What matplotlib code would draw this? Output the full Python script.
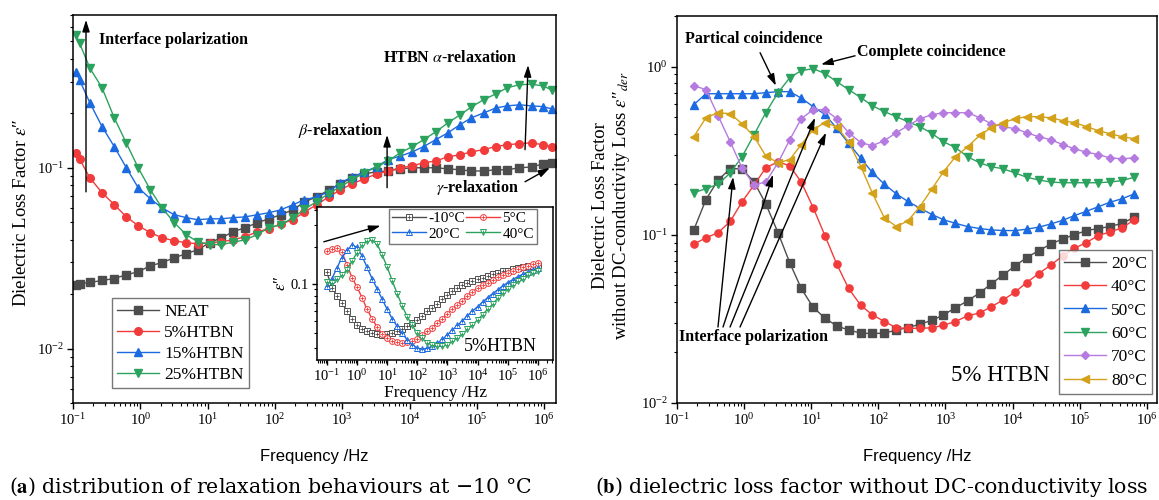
import matplotlib
matplotlib.use("Agg")
import matplotlib.pyplot as plt
import numpy as np
from matplotlib.ticker import LogLocator, NullFormatter, FixedLocator, FixedFormatter

plt.rcParams["font.family"] = ["Liberation Serif", "DejaVu Serif"]
plt.rcParams["mathtext.fontset"] = "stix"

GRAY = "#4d4d4d"
RED = "#f23b3b"
BLUE = "#1c6ae0"
GREEN = "#2ca25f"
PURPLE = "#b57be0"
GOLD = "#d4a21a"

# ---------------- panel (a): HTBN content at -10 C ----------------
freq_a = [0.11, 0.125, 0.178, 0.27, 0.41, 0.62, 0.93, 1.41, 2.1, 3.2, 4.8, 7.1,
          10.7, 16, 24, 36, 55, 81, 123, 186, 275, 417, 631, 933, 1410, 2140,
          3240, 4790, 7240, 1.1e4, 1.62e4, 2.45e4, 3.7e4, 5.6e4, 8.3e4, 1.26e5,
          1.9e5, 2.8e5, 4.3e5, 6.5e5, 9.5e5, 1.29e6]
neat_a = [0.0226, 0.0229, 0.0232, 0.0238, 0.0244, 0.0256, 0.0266, 0.0287, 0.0299, 0.0318,
          0.0335, 0.0352, 0.0385, 0.041, 0.0443, 0.0466, 0.0497, 0.0522, 0.055, 0.0586,
          0.0648, 0.069, 0.0755, 0.0816, 0.088, 0.0926, 0.095, 0.096, 0.0987, 0.100,
          0.100, 0.100, 0.0987, 0.0975, 0.096, 0.096, 0.0975, 0.0975, 0.100, 0.101,
          0.105, 0.1066]
htbn5_a = [0.121, 0.112, 0.088, 0.0728, 0.0625, 0.0536, 0.0478, 0.0438, 0.041, 0.0395,
           0.0385, 0.038, 0.0385, 0.039, 0.040, 0.0416, 0.0443, 0.046, 0.049, 0.0516,
           0.057, 0.0625, 0.069, 0.0755, 0.0816, 0.087, 0.0925, 0.096, 0.100, 0.1026,
           0.1066, 0.109, 0.115, 0.118, 0.1225, 0.126, 0.131, 0.134, 0.136, 0.1375,
           0.134, 0.131]
htbn15_a = [0.339, 0.306, 0.229, 0.169, 0.131, 0.100, 0.0776, 0.0674, 0.060, 0.055,
            0.053, 0.0516, 0.0522, 0.0522, 0.053, 0.0535, 0.055, 0.0564, 0.0586, 0.0625,
            0.0666, 0.069, 0.0736, 0.0826, 0.089, 0.095, 0.1013, 0.111, 0.116, 0.1225,
            0.131, 0.143, 0.156, 0.173, 0.189, 0.201, 0.214, 0.220, 0.223, 0.220,
            0.218, 0.212]
htbn25_a = [0.543, 0.49, 0.356, 0.277, 0.189, 0.137, 0.10, 0.0756, 0.060, 0.0497,
            0.0427, 0.039, 0.0376, 0.0376, 0.0387, 0.040, 0.0427, 0.0466, 0.0484, 0.053,
            0.059, 0.065, 0.072, 0.0785, 0.086, 0.094, 0.101, 0.109, 0.121, 0.131,
            0.143, 0.158, 0.177, 0.196, 0.217, 0.238, 0.256, 0.277, 0.288, 0.29,
            0.284, 0.27]

# inset: 5%HTBN at several temperatures
freq_i = [0.1, 0.147, 0.215, 0.316, 0.464, 0.681, 1, 1.47, 2.15, 3.16, 4.64, 6.81,
          10, 14.7, 21.5, 31.6, 46.4, 68.1, 100, 147, 215, 316, 464, 681,
          1000, 1470, 2150, 3160, 4640, 6810, 1e4, 1.47e4, 2.15e4, 3.16e4, 4.64e4,
          6.81e4, 1e5, 1.47e5, 2.15e5, 3.16e5, 4.64e5, 6.81e5, 1e6]
ins_m10 = [0.124, 0.093, 0.080, 0.070, 0.060, 0.052, 0.046, 0.043, 0.041, 0.0395,
           0.0387, 0.0385, 0.039, 0.040, 0.0415, 0.043, 0.0455, 0.048, 0.051, 0.055,
           0.060, 0.064, 0.069, 0.075, 0.081, 0.087, 0.093, 0.098, 0.102, 0.106,
           0.109, 0.112, 0.116, 0.12, 0.123, 0.126, 0.128, 0.131, 0.134, 0.137,
           0.139, 0.14, 0.142]
ins_5 = [0.183, 0.192, 0.196, 0.180, 0.143, 0.112, 0.094, 0.077, 0.062, 0.052,
         0.0445, 0.039, 0.0361, 0.0345, 0.0335, 0.033, 0.0334, 0.0342, 0.0355, 0.038,
         0.041, 0.044, 0.048, 0.052, 0.057, 0.062, 0.067, 0.073, 0.080, 0.086,
         0.092, 0.097, 0.102, 0.107, 0.113, 0.118, 0.122, 0.127, 0.132, 0.136,
         0.140, 0.144, 0.147]
ins_20 = [0.096, 0.110, 0.134, 0.163, 0.188, 0.205, 0.198, 0.168, 0.136, 0.110,
          0.091, 0.075, 0.062, 0.052, 0.045, 0.0395, 0.035, 0.032, 0.030, 0.0294,
          0.0298, 0.031, 0.0328, 0.0353, 0.0385, 0.042, 0.0458, 0.050, 0.055, 0.060,
          0.065, 0.071, 0.077, 0.083, 0.089, 0.096, 0.102, 0.108, 0.114, 0.119,
          0.124, 0.129, 0.134]
ins_40 = [0.104, 0.102, 0.109, 0.117, 0.13, 0.153, 0.178, 0.207, 0.224, 0.227,
          0.210, 0.172, 0.137, 0.106, 0.083, 0.066, 0.054, 0.046, 0.0395, 0.036,
          0.033, 0.0318, 0.0313, 0.0314, 0.032, 0.034, 0.036, 0.039, 0.0425, 0.046,
          0.051, 0.056, 0.062, 0.068, 0.076, 0.084, 0.091, 0.098, 0.105, 0.110,
          0.118, 0.123, 0.128]

# ---------------- panel (b): without DC conductivity, 5% HTBN ----------------
freq_b = [0.178, 0.27, 0.41, 0.62, 0.93, 1.41, 2.1, 3.2, 4.8, 7.1, 10.7, 16, 24, 36,
          55, 81, 123, 186, 275, 417, 631, 933, 1410, 2140, 3240, 4790, 7240, 1.1e4,
          1.62e4, 2.45e4, 3.7e4, 5.6e4, 8.3e4, 1.26e5, 1.9e5, 2.8e5, 4.3e5, 6.5e5]
t20_b = [0.107, 0.162, 0.212, 0.247, 0.247, 0.206, 0.153, 0.103, 0.068, 0.048,
         0.037, 0.032, 0.0287, 0.0272, 0.026, 0.0259, 0.026, 0.0272, 0.028, 0.0295,
         0.031, 0.0334, 0.0368, 0.0405, 0.0452, 0.051, 0.0578, 0.0655, 0.0732, 0.0805,
         0.088, 0.0946, 0.10, 0.106, 0.109, 0.112, 0.117, 0.127]
t40_b = [0.088, 0.096, 0.103, 0.12, 0.157, 0.198, 0.25, 0.272, 0.257, 0.206,
         0.145, 0.099, 0.067, 0.048, 0.038, 0.0335, 0.0305, 0.028, 0.0278, 0.0278,
         0.028, 0.029, 0.0305, 0.033, 0.0343, 0.0373, 0.041, 0.0458, 0.052, 0.0588,
         0.066, 0.075, 0.083, 0.09, 0.099, 0.104, 0.11, 0.123]
t50_b = [0.594, 0.69, 0.69, 0.69, 0.69, 0.69, 0.70, 0.71, 0.71, 0.65,
         0.578, 0.52, 0.43, 0.35, 0.285, 0.235, 0.20, 0.175, 0.158, 0.144,
         0.132, 0.123, 0.117, 0.112, 0.109, 0.107, 0.106, 0.106, 0.108, 0.111,
         0.116, 0.122, 0.13, 0.138, 0.147, 0.156, 0.164, 0.175]
t60_b = [0.178, 0.188, 0.20, 0.233, 0.291, 0.394, 0.532, 0.70, 0.86, 0.947,
         0.973, 0.91, 0.814, 0.73, 0.654, 0.586, 0.54, 0.504, 0.47, 0.44,
         0.40, 0.358, 0.33, 0.291, 0.268, 0.254, 0.247, 0.233, 0.22, 0.212,
         0.206, 0.204, 0.204, 0.204, 0.204, 0.206, 0.21, 0.22]
t70_b = [0.77, 0.73, 0.51, 0.358, 0.25, 0.198, 0.206, 0.268, 0.368, 0.49,
         0.555, 0.555, 0.49, 0.405, 0.353, 0.339, 0.363, 0.405, 0.445, 0.49,
         0.518, 0.532, 0.532, 0.532, 0.497, 0.458, 0.44, 0.427, 0.405, 0.383,
         0.368, 0.344, 0.325, 0.31, 0.30, 0.287, 0.283, 0.287]
t80_b = [0.383, 0.497, 0.532, 0.525, 0.458, 0.383, 0.295, 0.268, 0.28, 0.344,
         0.422, 0.465, 0.44, 0.358, 0.254, 0.178, 0.126, 0.112, 0.121, 0.147,
         0.188, 0.237, 0.291, 0.334, 0.39, 0.433, 0.465, 0.49, 0.504, 0.504,
         0.497, 0.477, 0.465, 0.44, 0.416, 0.40, 0.383, 0.373]


def style_log(ax, labelsize=10.5, major_len=4.5, minor_len=2.5):
    ax.set_xscale("log")
    ax.set_yscale("log")
    for axis in (ax.xaxis, ax.yaxis):
        axis.set_major_locator(LogLocator(base=10, numticks=20))
        axis.set_minor_locator(LogLocator(base=10, subs=np.arange(2, 10), numticks=20))
        axis.set_minor_formatter(NullFormatter())
    ax.tick_params(which="major", direction="out", length=major_len, width=1.0,
                   labelsize=labelsize, pad=2, top=False, right=False)
    ax.tick_params(which="minor", direction="out", length=minor_len, width=0.8,
                   top=False, right=False)
    for s in ax.spines.values():
        s.set_linewidth(1.1)


arrow = dict(arrowstyle="-|>,head_length=0.7,head_width=0.22", color="black",
             lw=1.0, shrinkA=0, shrinkB=0)
bold = dict(fontsize=11.5, fontweight="bold")

fig = plt.figure(figsize=(11.59, 5.0), dpi=100)
axA = fig.add_axes([73 / 1159, 97 / 500, 483 / 1159, 388 / 500])
axB = fig.add_axes([677 / 1159, 97 / 500, 480 / 1159, 387 / 500])

# ---- panel a ----
for vals, lab, mk, col in [(neat_a, "NEAT", "s", GRAY), (htbn5_a, "5%HTBN", "o", RED),
                           (htbn15_a, "15%HTBN", "^", BLUE), (htbn25_a, "25%HTBN", "v", GREEN)]:
    axA.plot(freq_a, vals, color=col, marker=mk, ms=5.5, lw=1.0, label=lab)
style_log(axA)
axA.set_xlim(0.1, 1.5e6)
axA.set_ylim(0.005, 0.70)
axA.set_ylabel("Dielectric Loss Factor " + r"$\varepsilon$" + "\u2033", fontsize=13.5)
axA.yaxis.set_label_coords(-0.088, 0.49)
axA.set_xlabel("Frequency /Hz", fontsize=12, family="Liberation Sans")
axA.xaxis.set_label_coords(0.5, -0.118)
axA.legend(loc="lower left", bbox_to_anchor=(0.081, 0.039), borderaxespad=0,
           fontsize=12.5, frameon=True, fancybox=False, edgecolor="#555555",
           handlelength=2.4, handletextpad=0.3, labelspacing=0.28, borderpad=0.3)

axA.annotate("", xy=(0.156, 0.658), xytext=(0.156, 0.0736), arrowprops=arrow)
axA.text(0.243, 0.51, "Interface polarization", ha="left", va="center", **bold)
axA.annotate("", xy=(4640, 0.152), xytext=(4640, 0.0776), arrowprops=arrow)
axA.text(4040, 0.16, r"$\beta$-relaxation", ha="right", va="center", **bold)
axA.annotate("", xy=(5.77e5, 0.37), xytext=(5.2e5, 0.126), arrowprops=arrow)
axA.text(4.0e4, 0.405, r"HTBN $\alpha$-relaxation", ha="center", va="center", **bold)
axA.annotate("", xy=(1.22e6, 0.1), xytext=(5.2e5, 0.0837), arrowprops=arrow)
axA.text(4.24e5, 0.0776, r"$\gamma$-relaxation", ha="right", va="center", **bold)

# ---- inset ----
axI = fig.add_axes([317 / 1159, 140 / 500, 236 / 1159, 153 / 500])
handles = []
for vals, mk, col in [(ins_m10, "s", GRAY), (ins_5, "o", RED),
                      (ins_20, "^", BLUE), (ins_40, "v", GREEN)]:
    l1, = axI.plot(freq_i, vals, color=col, marker=mk, ms=4.2, mfc="white",
                   mew=0.7, lw=1.0)
    l2, = axI.plot(freq_i, vals, ls="none", marker="+", ms=3.2, mew=0.6, color=col)
    handles.append((l1, l2))
style_log(axI, labelsize=10.5, major_len=3.5, minor_len=2)
axI.set_xlim(0.047, 3.2e6)
axI.set_ylim(0.024, 0.42)
axI.yaxis.set_major_locator(FixedLocator([0.1]))
axI.yaxis.set_major_formatter(FixedFormatter(["0.1"]))
axI.set_ylabel(r"$\varepsilon$" + "\u2033", fontsize=12)
axI.yaxis.set_label_coords(-0.12, 0.5)
axI.set_xlabel("Frequency /Hz", fontsize=12.5)
axI.xaxis.set_label_coords(0.5, -0.165)
axI.legend([handles[0], handles[2], handles[1], handles[3]],
           ["-10°C", "20°C", "5°C", "40°C"], ncol=2, loc="upper right",
           bbox_to_anchor=(0.932, 0.99), borderaxespad=0, fontsize=11,
           frameon=True, fancybox=False, edgecolor="#555555", handlelength=2.2,
           handletextpad=0.15, columnspacing=0.1, labelspacing=0.1, borderpad=0.2)
axI.annotate("", xy=(6.05, 0.296), xytext=(0.079, 0.219), arrowprops=arrow)
axI.text(0.775, 0.085, "5%HTBN", transform=axI.transAxes, ha="center",
         va="center", fontsize=13)

# ---- panel b ----
for vals, lab, mk, col, ms in [(t20_b, "20°C", "s", GRAY, 5.2), (t40_b, "40°C", "o", RED, 5.2),
                               (t50_b, "50°C", "^", BLUE, 5.5), (t60_b, "60°C", "v", GREEN, 5.5),
                               (t70_b, "70°C", "D", PURPLE, 4.5), (t80_b, "80°C", "<", GOLD, 5.5)]:
    axB.plot(freq_b, vals, color=col, marker=mk, ms=ms, lw=1.0, label=lab)
style_log(axB)
axB.set_xlim(0.1, 1.42e6)
axB.set_ylim(0.01, 2.0)
axB.set_ylabel("Dielectric Loss Factor\nwithout DC-conductivity Loss "
               + r"$\varepsilon$" + "\u2033" + r"$_{der}$",
               fontsize=13.5, linespacing=1.15)
axB.yaxis.set_label_coords(-0.094, 0.51)
axB.set_xlabel("Frequency /Hz", fontsize=12, family="Liberation Sans")
axB.xaxis.set_label_coords(0.5, -0.12)
axB.legend(loc="lower right", bbox_to_anchor=(0.99, 0.023), borderaxespad=0,
           fontsize=12.5, frameon=True, fancybox=False, edgecolor="#555555",
           handlelength=2.4, handletextpad=0.3, labelspacing=0.42, borderpad=0.3)

axB.text(0.131, 1.45, "Partical coincidence", ha="left", va="center", **bold)
axB.annotate("", xy=(2.98, 0.77), xytext=(1.73, 1.21), arrowprops=arrow)
axB.text(48.2, 1.23, "Complete coincidence", ha="left", va="center", **bold)
axB.annotate("", xy=(14, 1.03), xytext=(45, 1.16), arrowprops=arrow)
axB.text(0.107, 0.0247, "Interface polarization", ha="left", va="center", **bold)
for base_x, tip_x, tip_y in [(0.408, 0.684, 0.221), (0.485, 2.7, 0.228),
                             (0.617, 11.4, 0.497), (0.869, 16.6, 0.405)]:
    axB.annotate("", xy=(tip_x, tip_y), xytext=(base_x, 0.0283), arrowprops=arrow)
axB.text(0.673, 0.072, "5% HTBN", transform=axB.transAxes, ha="center",
         va="center", fontsize=16.5)

# ---- captions ----
fig.text(9 / 1159, 1 - 487 / 500, r"($\mathbf{a}$) distribution of relaxation behaviours at −10 °C",
         family="DejaVu Serif", fontsize=14.8, ha="left", va="center")
fig.text(595 / 1159, 1 - 487 / 500, r"($\mathbf{b}$) dielectric loss factor without DC-conductivity loss",
         family="DejaVu Serif", fontsize=14.8, ha="left", va="center")

fig.savefig("out.png", dpi=100)
